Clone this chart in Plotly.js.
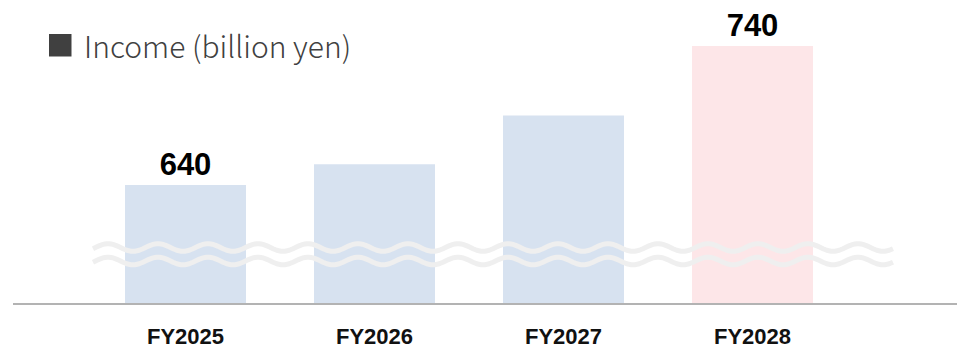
<!DOCTYPE html>
<html>
<head>
<meta charset="utf-8">
<script src="https://cdn.plot.ly/plotly-3.0.1.min.js"></script>
<style>html,body{margin:0;padding:0;background:#fff;}#chart{width:958px;height:351px;}</style>
</head>
<body>
<div id="chart"></div>
<script>
const categories = ["FY2025", "FY2026", "FY2027", "FY2028"];
const income = [640, 655, 690, 740];
const labelShown = [true, false, false, true];
const barColors = ["#d7e2f0", "#d7e2f0", "#d7e2f0", "#fde6e8"];
const seriesName = "Income (billion yen)";

const W = 958, H = 351;
const M = {l: 13, r: 1, t: 10, b: 48};
const pw = W - M.l - M.r, ph = H - M.t - M.b;
const px = x => (x - M.l) / pw;
const py = y => (H - M.b - y) / ph;

function wave(yc) {
  let d = "";
  for (let x = 93; x <= 893; x += 2) {
    const y = yc - 3.8 * Math.sin(2 * Math.PI * (x - 95.5) / 50);
    d += (x === 93 ? "M" : "L") + px(x).toFixed(5) + "," + py(y).toFixed(5);
  }
  return d;
}

const trace = {
  type: "bar",
  x: categories,
  y: income,
  text: income.map((v, i) => labelShown[i] ? String(v) : ""),
  textposition: "outside",
  cliponaxis: false,
  constraintext: "none",
  textfont: {family: "Liberation Sans, Arial, sans-serif", size: 31, color: "#000", weight: "bold"},
  marker: {color: barColors, line: {width: 0}},
  hoverinfo: "skip"
};

const layout = {
  width: W, height: H,
  margin: M,
  paper_bgcolor: "#fff", plot_bgcolor: "#fff",
  showlegend: false,
  bargap: 0.36,
  xaxis: {
    type: "category",
    range: [-0.9127, 4.082],
    showline: true, linecolor: "#b3b3b3", linewidth: 2,
    showgrid: false, zeroline: false,
    ticks: "", ticklabelstandoff: 13,
    tickfont: {family: "Liberation Sans, Arial, sans-serif", size: 22, color: "#111", weight: "bold"}
  },
  yaxis: {
    range: [555.1, 765.9],
    visible: false, showgrid: false, zeroline: false, fixedrange: true
  },
  shapes: [
    {type: "path", xref: "paper", yref: "paper", path: wave(247.5), line: {color: "#efefef", width: 5}, layer: "above"},
    {type: "path", xref: "paper", yref: "paper", path: wave(261), line: {color: "#efefef", width: 5}, layer: "above"},
    {type: "rect", xref: "paper", yref: "paper", x0: px(49), x1: px(71.5), y0: py(34), y1: py(56.5), fillcolor: "#404040", line: {width: 0}}
  ],
  annotations: [
    {xref: "paper", yref: "paper", x: px(82), y: py(45), xanchor: "left", yanchor: "middle", showarrow: false,
     text: seriesName, font: {family: "Noto Sans CJK JP, Noto Sans, sans-serif", size: 30, color: "#404040", weight: 300}}
  ]
};

Plotly.newPlot("chart", [trace], layout, {displayModeBar: false, staticPlot: true});
</script>
</body>
</html>
